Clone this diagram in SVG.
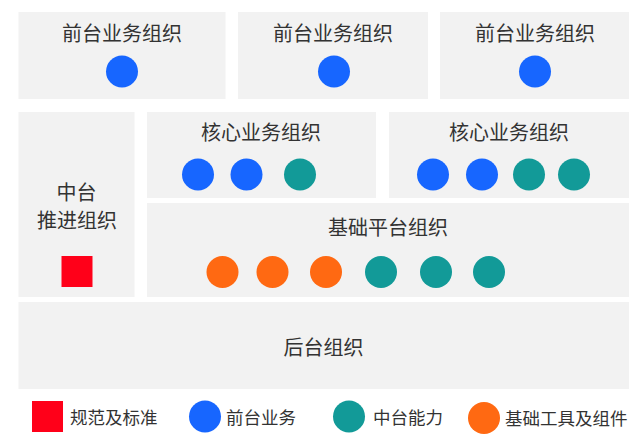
<svg xmlns="http://www.w3.org/2000/svg" width="642" height="447" viewBox="0 0 642 447">
<style>
.box{fill:#f2f2f2}
.t{font-family:"Noto Sans CJK SC","Noto Sans",sans-serif;font-size:20px;fill:#333;text-anchor:middle;dominant-baseline:central}
.lg{font-family:"Noto Sans CJK SC","Noto Sans",sans-serif;font-size:17.5px;fill:#333;dominant-baseline:central}
.b{fill:#1766ff}
.g{fill:#129a98}
.o{fill:#ff6912}
.r{fill:#ff0019}
</style>
<rect width="642" height="447" fill="#ffffff"/>
<g id="front1"><rect class="box" x="18.5" y="12" width="207" height="87"/><text class="t" x="122" y="32">前台业务组织</text><circle class="b" cx="122" cy="71.5" r="16"/></g>
<g id="front2"><rect class="box" x="238" y="12" width="190" height="87"/><text class="t" x="333" y="32">前台业务组织</text><circle class="b" cx="334" cy="71.5" r="16"/></g>
<g id="front3"><rect class="box" x="440" y="12" width="189" height="87"/><text class="t" x="535" y="32">前台业务组织</text><circle class="b" cx="535" cy="71.5" r="16"/></g>
<g id="middle"><rect class="box" x="18.5" y="112" width="116" height="185"/><text class="t" x="76.5" y="191.5">中台</text><text class="t" x="77" y="219">推进组织</text><rect class="r" x="61.5" y="256" width="31" height="31"/></g>
<g id="core1"><rect class="box" x="147" y="112" width="229" height="86"/><text class="t" x="261" y="131">核心业务组织</text><circle class="b" cx="198" cy="174.5" r="16"/><circle class="b" cx="246.5" cy="174.5" r="16"/><circle class="g" cx="300" cy="174.5" r="16"/></g>
<g id="core2"><rect class="box" x="389" y="112" width="240" height="86"/><text class="t" x="509" y="131">核心业务组织</text><circle class="b" cx="433" cy="174.5" r="16"/><circle class="b" cx="482" cy="174.5" r="16"/><circle class="g" cx="529" cy="174.5" r="16"/><circle class="g" cx="574" cy="174.5" r="16"/></g>
<g id="base"><rect class="box" x="147" y="203" width="482" height="94"/><text class="t" x="388" y="226">基础平台组织</text><circle class="o" cx="222.5" cy="272" r="16"/><circle class="o" cx="272.5" cy="272" r="16"/><circle class="o" cx="326" cy="272" r="16"/><circle class="g" cx="381" cy="272" r="16"/><circle class="g" cx="436" cy="272" r="16"/><circle class="g" cx="489" cy="272" r="16"/></g>
<g id="back"><rect class="box" x="18.5" y="302" width="610.5" height="87"/><text class="t" x="323.5" y="346">后台组织</text></g>
<g id="legend">
<rect class="r" x="32" y="401" width="31" height="31"/><text class="lg" x="70" y="416.5">规范及标准</text>
<circle class="b" cx="205" cy="416.5" r="16"/><text class="lg" x="226" y="416.5">前台业务</text>
<circle class="g" cx="349" cy="416.5" r="16"/><text class="lg" x="373" y="416.5">中台能力</text>
<circle class="o" cx="484" cy="418" r="16"/><text class="lg" x="505" y="417">基础工具及组件</text>
</g>
<g id="connectors"/>
</svg>
